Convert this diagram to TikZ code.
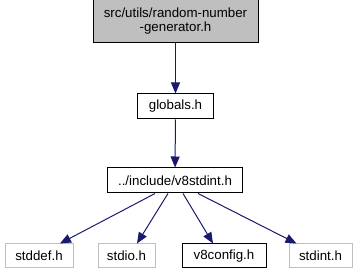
\documentclass[tikz,border=0pt]{standalone}
\usepackage{fontspec}
\setmainfont{Liberation Sans}
\usetikzlibrary{arrows.meta}
\definecolor{navyblue}{HTML}{191970}

\begin{document}
\begin{tikzpicture}[x=1pt,y=-1pt,
    file/.style={draw=black,fill=white,line width=1pt,inner sep=0pt,minimum height=25pt,
                 font=\fontsize{13.3}{14}\selectfont},
    ext/.style={file,draw=black!25,minimum height=24pt},
    dep/.style={-{Triangle[length=11pt,width=9pt]},navyblue,line width=1pt}]
                      \useasboundingbox (0,0) rectangle (359,275);
                      \node[file,fill=black!25,minimum width=165pt,minimum height=43pt,align=center](src)at(175.5,21.5){src/utils/random-number\\-generator.h};
                      \node[file,minimum width=76pt](globals)at(175.5,106.5){globals.h};
                      \node[file,minimum width=135pt](v8stdint)at(175,180.5){../include/v8stdint.h};
                      \node[ext,minimum width=68pt](stddef)at(39,256){stddef.h};
                      \node[ext,minimum width=57pt](stdio)at(126.5,256){stdio.h};
                      \node[file,minimum width=84pt,minimum height=24pt](v8config)at(224,256){v8config.h};
                      \node[ext,minimum width=63pt](stdint)at(320.5,256){stdint.h};
                      \draw[dep](src)--(globals);
                      \draw[dep](globals)--(v8stdint);
                      \draw[dep]([xshift=-20pt]v8stdint.south)--([xshift=21pt]stddef.north);
                      \draw[dep]([xshift=-7pt]v8stdint.south)--([xshift=10.5pt]stdio.north);
                      \draw[dep]([xshift=8pt]v8stdint.south)--([xshift=-11pt]v8config.north);
                      \draw[dep]([xshift=23pt]v8stdint.south)--([xshift=-24pt]stdint.north);
                  \end{tikzpicture}
\end{document}
